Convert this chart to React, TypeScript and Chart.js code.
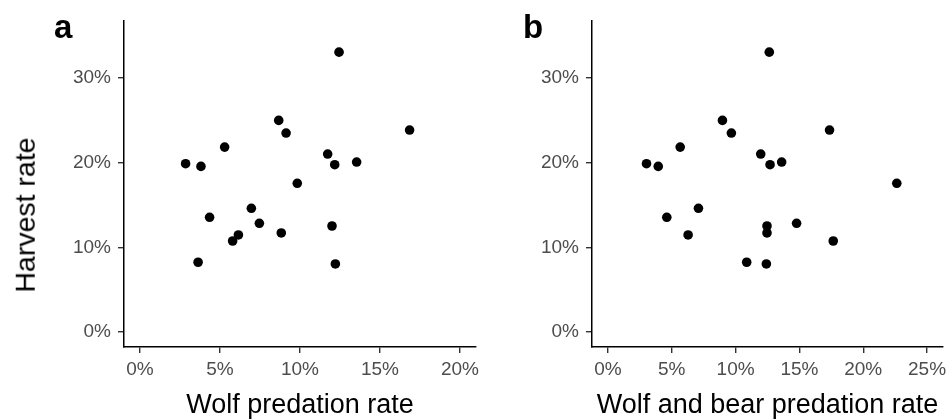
import React, { useEffect, useRef } from 'react';
import { Chart, registerables } from 'chart.js';

Chart.register(...registerables);

const FONT = '"Liberation Sans", Arial, Helvetica, sans-serif';

// Harvest rate (%) per area, same order in both panels
const HARVEST_RATE = [33.07, 25.01, 23.52, 23.87, 21.86, 21.04, 19.9, 19.58, 19.78, 20.09, 17.58, 14.63, 13.57, 12.86, 12.54, 11.72, 11.48, 10.77, 8.26, 8.06];
// Panel a: wolf predation rate (%)
const WOLF_RATE = [12.44, 8.67, 9.13, 16.85, 5.29, 11.73, 2.85, 3.81, 12.17, 13.54, 9.83, 6.96, 4.35, 7.46, 12.0, 8.83, 6.15, 5.79, 3.63, 12.21];
// Panel b: wolf and bear predation rate (%)
const WOLF_BEAR_RATE = [12.64, 8.97, 9.67, 17.36, 5.66, 11.97, 3.02, 3.94, 12.7, 13.61, 22.63, 7.09, 4.61, 14.78, 12.46, 12.46, 6.28, 17.65, 10.87, 12.41];

const X_TICKS_A = [0, 5, 10, 15, 20];
const X_TICKS_B = [0, 5, 10, 15, 20, 25];
const Y_TICKS = [0, 10, 20, 30];

const X_TITLE_A = 'Wolf predation rate';
const X_TITLE_B = 'Wolf and bear predation rate';
const Y_TITLE = 'Harvest rate';

type PanelProps = {
  xs: number[];
  xTicks: number[];
  xMin: number;
  xMax: number;
  xTitle: string;
  yWidth: number;
  padRight: number;
  left: number;
  width: number;
};

function Panel(p: PanelProps) {
  const ref = useRef<HTMLCanvasElement | null>(null);
  useEffect(() => {
    if (!ref.current) return;
    const data = p.xs.map((x, i) => ({ x, y: HARVEST_RATE[i] }));
    const chart = new Chart(ref.current, {
      type: 'scatter',
      data: {
        datasets: [
          {
            data,
            backgroundColor: '#000000',
            borderColor: '#000000',
            borderWidth: 0,
            pointRadius: 4.8,
            pointHoverRadius: 4.8,
          },
        ],
      },
      options: {
        animation: false,
        responsive: false,
        maintainAspectRatio: false,
        devicePixelRatio: 1,
        layout: { padding: { top: 21, right: p.padRight, bottom: 0, left: 0 } },
        plugins: { legend: { display: false }, tooltip: { enabled: false } },
        scales: {
          x: {
            type: 'linear',
            min: p.xMin,
            max: p.xMax,
            afterBuildTicks: (s: any) => {
              s.ticks = p.xTicks.map((v) => ({ value: v }));
            },
            afterFit: (s: any) => {
              s.height = 73;
            },
            ticks: {
              callback: (v: any) => `${v}%`,
              color: '#4d4d4d',
              font: { family: FONT, size: 19 },
              padding: 5,
              maxRotation: 0,
            },
            grid: {
              display: true,
              drawOnChartArea: false,
              drawTicks: true,
              tickLength: 6,
              color: '#333333',
              lineWidth: 1.4,
            },
            border: { display: true, color: '#000000', width: 1.5 },
            title: {
              display: true,
              text: p.xTitle,
              color: '#000000',
              font: { family: FONT, size: 27, lineHeight: 1 },
              padding: { top: 0, bottom: 1 },
            },
          },
          y: {
            type: 'linear',
            min: -1.75,
            max: 36.75,
            afterBuildTicks: (s: any) => {
              s.ticks = Y_TICKS.map((v) => ({ value: v }));
            },
            afterFit: (s: any) => {
              s.width = p.yWidth;
            },
            ticks: {
              callback: (v: any) => `${v}%`,
              color: '#4d4d4d',
              font: { family: FONT, size: 19 },
              padding: 7,
            },
            grid: {
              display: true,
              drawOnChartArea: false,
              drawTicks: true,
              tickLength: 6,
              color: '#333333',
              lineWidth: 1.4,
            },
            border: { display: true, color: '#000000', width: 1.5 },
          },
        },
      },
    });
    return () => chart.destroy();
  }, []);
  return (
    <canvas
      ref={ref}
      width={p.width}
      height={420}
      style={{ position: 'absolute', left: p.left, top: 0, width: p.width, height: 420 }}
    />
  );
}

export default function App() {
  const letterStyle: React.CSSProperties = {
    position: 'absolute',
    top: 10,
    fontFamily: FONT,
    fontWeight: 'bold',
    fontSize: 33,
    lineHeight: '33px',
    color: '#000',
  };
  return (
    <div
      style={{
        position: 'absolute',
        left: 0,
        top: 0,
        width: 947,
        height: 420,
        overflow: 'hidden',
        background: '#ffffff',
      }}
    >
      <Panel xs={WOLF_RATE} xTicks={X_TICKS_A} xMin={-1} xMax={21} xTitle={X_TITLE_A} yWidth={124} padRight={24} left={0} width={500} />
      <Panel xs={WOLF_BEAR_RATE} xTicks={X_TICKS_B} xMin={-1.25} xMax={26.25} xTitle={X_TITLE_B} yWidth={112} padRight={17} left={480} width={480} />
      <div style={{ ...letterStyle, left: 54 }}>a</div>
      <div style={{ ...letterStyle, left: 523 }}>b</div>
      <div
        style={{
          position: 'absolute',
          left: 25,
          top: 215,
          transform: 'translate(-50%, -50%) rotate(-90deg)',
          whiteSpace: 'nowrap',
          fontFamily: FONT,
          fontSize: 28.5,
          lineHeight: '28.5px',
          color: '#000',
        }}
      >
        {Y_TITLE}
      </div>
    </div>
  );
}
